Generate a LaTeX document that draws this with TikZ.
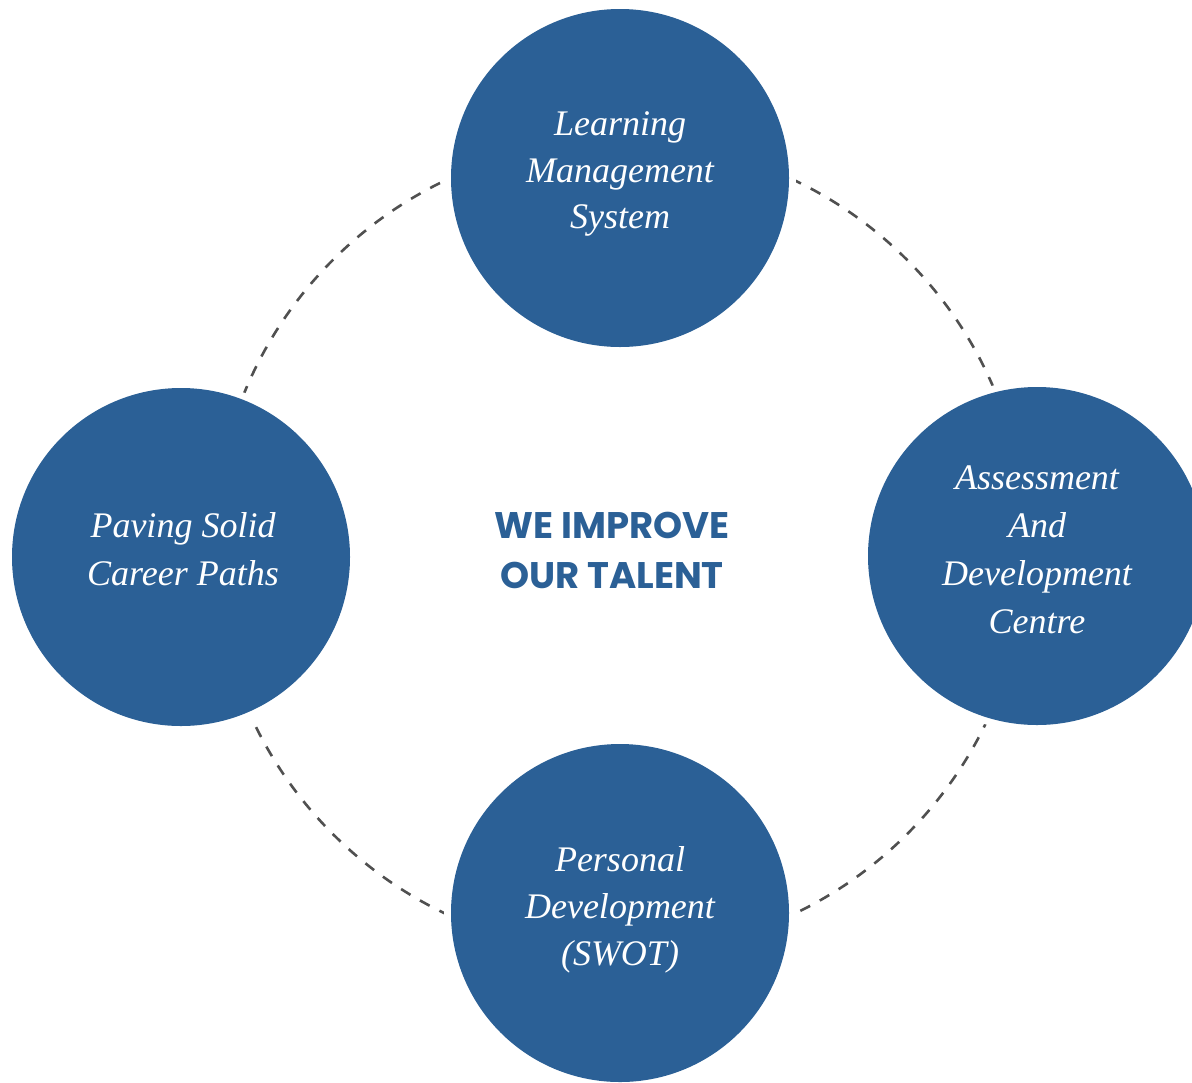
\documentclass[tikz,border=0pt]{standalone}
\usepackage{fontspec}
\setmainfont{Liberation Serif}
\newfontfamily\headfont{Poppins}
\definecolor{circblue}{RGB}{43,96,150}
\definecolor{dashgray}{RGB}{80,80,80}
\tikzset{
  circnode/.style={circle, fill=circblue, inner sep=0pt, minimum size=169pt,
    preaction={draw=white, line width=7pt}},
  itext/.style={anchor=base, text=white, inner sep=0pt,
    font=\fontsize{18}{21.5}\selectfont\itshape},
  headtext/.style={anchor=base, text=circblue, inner sep=0pt,
    font=\headfont\bfseries\fontsize{18.5}{22}\selectfont},
  ring/.style={draw=dashgray, line width=1.3pt, dash pattern=on 5.5pt off 5.5pt}
}
\begin{document}
\begin{tikzpicture}[x=0.5pt, y=-0.5pt]
\useasboundingbox (0,0) rectangle (1192,1082);
\clip (0,0) rectangle (1192,1082);
\fill[white] (0,0) rectangle (1192,1082);
% dashed ring
\draw[ring] (620,547) circle[radius=406];
% circles
\node[circnode] (top) at (620,178) {};
\node[circnode] (left) at (181,557) {};
\node[circnode] (right) at (1037,556) {};
\node[circnode] (bottom) at (620,913) {};
% top labels
\node[itext] (t1) at (620,135) {Learning};
\node[itext] (t2) at (620,182) {Management};
\node[itext] (t3) at (620,228) {System};
% left labels
\node[itext] (l1) at (183,537) {Paving Solid};
\node[itext] (l2) at (183,585) {Career Paths};
% right labels
\node[itext] (r1) at (1037,489) {Assessment};
\node[itext] (r2) at (1037,537) {And};
\node[itext] (r3) at (1037,585) {Development};
\node[itext] (r4) at (1037,633) {Centre};
% bottom labels
\node[itext] (b1) at (620,871) {Personal};
\node[itext] (b2) at (620,918) {Development};
\node[itext] (b3) at (620,965) {(SWOT)};
% centre heading
\node[headtext] (h1) at (612,538) {WE IMPROVE};
\node[headtext] (h2) at (612,588) {OUR TALENT};
\end{tikzpicture}
\end{document}
